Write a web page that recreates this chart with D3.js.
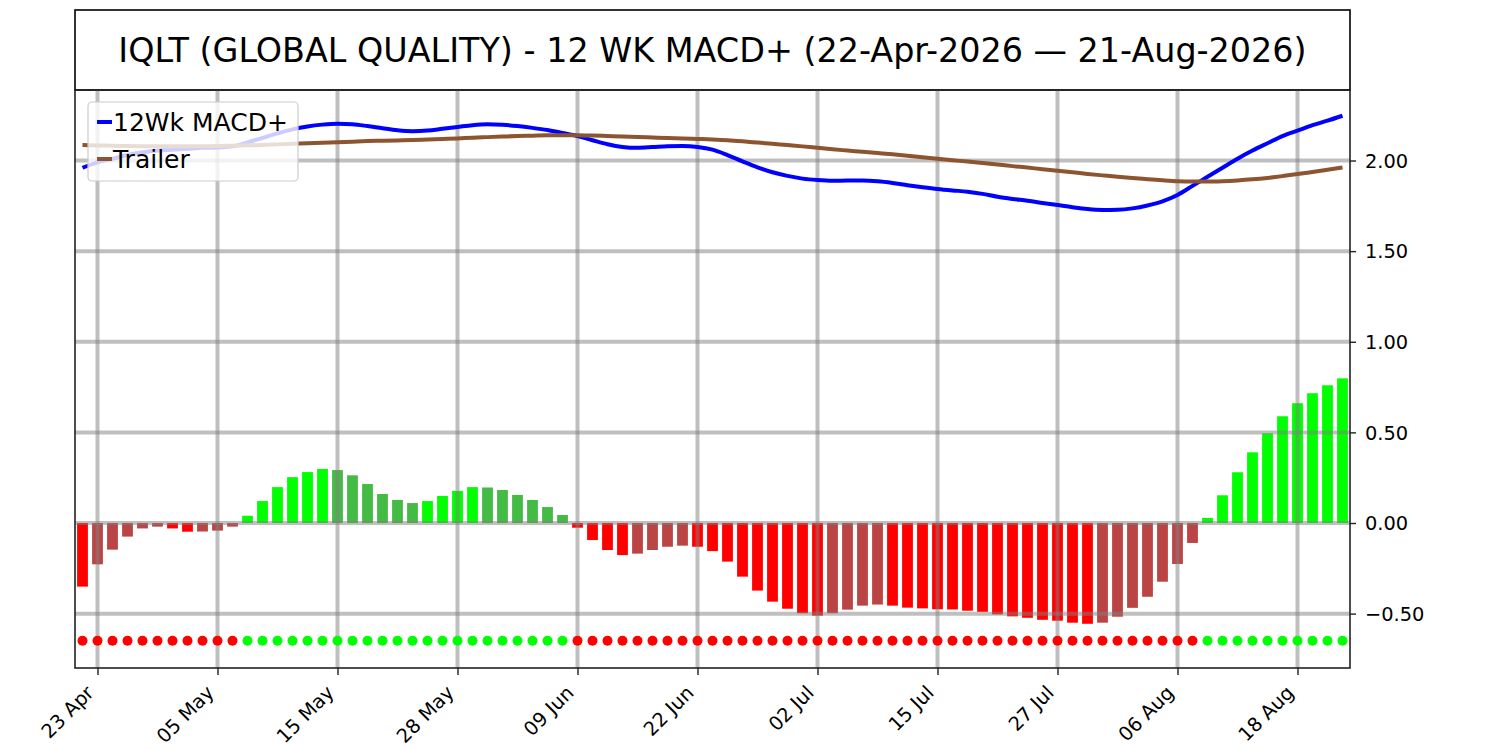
<!DOCTYPE html>
<html lang="en">
<head>
<meta charset="utf-8">
<title>IQLT 12 WK MACD+</title>
<script src="https://d3js.org/d3.v7.min.js"></script>
<style type="text/css">
  body { margin: 0; background: #fff; }
  text { font-family: "DejaVu Sans", sans-serif; fill: #000; }
  .axis path, .axis line { stroke: #222; }
</style>
</head>
<body>
<script type="text/javascript">

// chart title
var title = "IQLT (GLOBAL QUALITY) - 12 WK MACD+ (22-Apr-2026 \u2014 21-Aug-2026)";

// tick labels at trading-day index
var tickIndex  = [1, 9, 17, 25, 33, 41, 49, 57, 65, 73, 81];
var tickLabels = ["23 Apr", "05 May", "15 May", "28 May", "09 Jun", "22 Jun",
                  "02 Jul", "15 Jul", "27 Jul", "06 Aug", "18 Aug"];

// 12Wk MACD+ line, one value per trading day (22 Apr .. 21 Aug)
var macd = [1.96, 1.99, 2.01, 2.03, 2.045, 2.055, 2.06, 2.065, 2.07, 2.072,
            2.078, 2.10, 2.125, 2.15, 2.172, 2.188, 2.198, 2.203, 2.20, 2.19,
            2.178, 2.167, 2.162, 2.165, 2.175, 2.185, 2.195, 2.20, 2.197, 2.19,
            2.18, 2.168, 2.152, 2.135, 2.112, 2.09, 2.075, 2.07, 2.074, 2.079,
            2.08, 2.075, 2.06, 2.03, 1.995, 1.962, 1.935, 1.915, 1.90, 1.892,
            1.888, 1.889, 1.889, 1.885, 1.876, 1.864, 1.853, 1.843, 1.835, 1.828,
            1.816, 1.80, 1.788, 1.778, 1.766, 1.754, 1.742, 1.732, 1.727, 1.728,
            1.736, 1.752, 1.775, 1.81, 1.86, 1.91, 1.96, 2.01, 2.055, 2.095,
            2.135, 2.165, 2.195, 2.22, 2.247];

// Trailer line
var trailer = [2.085, 2.083, 2.081, 2.08, 2.079, 2.078, 2.078, 2.078, 2.079, 2.08,
               2.082, 2.084, 2.086, 2.089, 2.092, 2.095, 2.098, 2.101, 2.104, 2.107,
               2.109, 2.111, 2.113, 2.116, 2.119, 2.122, 2.126, 2.129, 2.132, 2.135,
               2.137, 2.139, 2.14, 2.14, 2.138, 2.135, 2.132, 2.13, 2.127, 2.124,
               2.122, 2.119, 2.116, 2.112, 2.106, 2.099, 2.092, 2.085, 2.078, 2.07,
               2.062, 2.055, 2.048, 2.041, 2.034, 2.026, 2.018, 2.01, 2.002, 1.994,
               1.986, 1.978, 1.969, 1.961, 1.952, 1.944, 1.935, 1.926, 1.918, 1.91,
               1.903, 1.897, 1.891, 1.886, 1.884, 1.884, 1.886, 1.89, 1.896, 1.904,
               1.914, 1.925, 1.937, 1.949, 1.962];

// histogram
var hist = [-0.351, -0.228, -0.147, -0.075, -0.03, -0.02, -0.03, -0.048, -0.047, -0.042,
            -0.02, 0.04, 0.121, 0.198, 0.253, 0.281, 0.298, 0.292, 0.263, 0.215,
            0.16, 0.127, 0.11, 0.121, 0.149, 0.177, 0.198, 0.196, 0.182, 0.155,
            0.127, 0.088, 0.044, -0.026, -0.094, -0.149, -0.177, -0.169, -0.149, -0.131,
            -0.125, -0.131, -0.155, -0.213, -0.296, -0.373, -0.434, -0.473, -0.498, -0.511,
            -0.498, -0.478, -0.456, -0.45, -0.456, -0.467, -0.471, -0.476, -0.477, -0.484,
            -0.49, -0.504, -0.515, -0.523, -0.534, -0.539, -0.55, -0.556, -0.55, -0.517,
            -0.468, -0.407, -0.324, -0.226, -0.11, 0.028, 0.153, 0.28, 0.39, 0.495,
            0.589, 0.661, 0.716, 0.76, 0.798];

var yTicks = [-0.5, 0, 0.5, 1, 1.5, 2];
var dotLevel = -0.65;

var width = 1500, height = 750;
var pLeft = 75, pRight = 1350, pTop = 90, pBottom = 668;

var svg = d3.select("body").append("svg")
  .attr("width", width)
  .attr("height", height);

var x = d3.scaleLinear().domain([-0.5, hist.length - 0.5]).range([pLeft, pRight]);
var y = d3.scaleLinear().domain([-0.8, 2.389]).range([pBottom, pTop]);
var bw = (x(1) - x(0)) * 0.72;

svg.append("defs").append("clipPath").attr("id", "plot")
  .append("rect").attr("x", pLeft).attr("y", pTop)
  .attr("width", pRight - pLeft).attr("height", pBottom - pTop);

// title box
svg.append("rect")
  .attr("x", pLeft).attr("y", 10)
  .attr("width", pRight - pLeft).attr("height", pTop - 10)
  .attr("fill", "none").attr("stroke", "#000").attr("stroke-width", 1.6);
svg.append("text")
  .attr("x", (pLeft + pRight) / 2).attr("y", 62)
  .attr("text-anchor", "middle")
  .style("font-size", "33.4px")
  .text(title);

var plot = svg.append("g").attr("clip-path", "url(#plot)");

// bars: bright when moving away from zero, dull when moving back
function barColor(d, i) {
  var prev = i > 0 ? hist[i - 1] : null;
  if (d >= 0) return (prev === null || d >= prev) ? "#00ff00" : "#44bb44";
  return (prev === null || d < prev) ? "#ff0000" : "#bb4444";
}

plot.selectAll("rect.bar")
  .data(hist)
  .enter()
  .append("rect")
  .attr("class", "bar")
  .attr("x", function(d, i) { return x(i) - bw / 2; })
  .attr("y", function(d) { return y(Math.max(0, d)); })
  .attr("width", bw)
  .attr("height", function(d) { return Math.abs(y(d) - y(0)); })
  .attr("fill", barColor);

// grid
plot.selectAll("line.hgrid")
  .data(yTicks)
  .enter()
  .append("line")
  .attr("x1", pLeft).attr("x2", pRight)
  .attr("y1", function(d) { return y(d); })
  .attr("y2", function(d) { return y(d); })
  .attr("stroke", "#808080").attr("stroke-opacity", 0.5).attr("stroke-width", 4);

plot.selectAll("line.vgrid")
  .data(tickIndex)
  .enter()
  .append("line")
  .attr("x1", function(d) { return x(d); })
  .attr("x2", function(d) { return x(d); })
  .attr("y1", pTop).attr("y2", pBottom)
  .attr("stroke", "#808080").attr("stroke-opacity", 0.5).attr("stroke-width", 4);

// lines
var line = d3.line()
  .x(function(d, i) { return x(i); })
  .y(function(d) { return y(d); })
  .curve(d3.curveMonotoneX);

plot.append("path").datum(macd)
  .attr("d", line)
  .attr("fill", "none").attr("stroke", "#0000ff").attr("stroke-width", 4);

plot.append("path").datum(trailer)
  .attr("d", line)
  .attr("fill", "none").attr("stroke", "#8c5530").attr("stroke-width", 4);

// signal dots
plot.selectAll("circle.dot")
  .data(macd)
  .enter()
  .append("circle")
  .attr("cx", function(d, i) { return x(i); })
  .attr("cy", y(dotLevel))
  .attr("r", 5)
  .attr("fill", function(d, i) { return d > trailer[i] ? "#00ff00" : "#ff0000"; });

// frame
svg.append("rect")
  .attr("x", pLeft).attr("y", pTop)
  .attr("width", pRight - pLeft).attr("height", pBottom - pTop)
  .attr("fill", "none").attr("stroke", "#222").attr("stroke-width", 1.6);

// right axis
var yAxis = svg.append("g")
  .attr("class", "axis")
  .attr("transform", "translate(" + pRight + ",0)")
  .call(d3.axisRight(y).tickValues(yTicks).tickFormat(d3.format(".2f"))
        .tickSize(6).tickPadding(9));
yAxis.select(".domain").remove();
yAxis.selectAll("line").attr("stroke-width", 1.4);
yAxis.selectAll("text").style("font-size", "19.4px").attr("dy", "0.35em");

// bottom axis
var xAxis = svg.append("g")
  .attr("class", "axis")
  .attr("transform", "translate(0," + pBottom + ")")
  .call(d3.axisBottom(x).tickValues(tickIndex)
        .tickFormat(function(d, i) { return tickLabels[i]; })
        .tickSize(7));
xAxis.select(".domain").remove();
xAxis.selectAll("line").attr("stroke-width", 1.4);
xAxis.selectAll("text")
  .style("font-size", "19.4px")
  .attr("text-anchor", "end")
  .attr("dy", null)
  .attr("y", null)
  .attr("transform", "translate(-3,26) rotate(-45)");

// legend
var legend = svg.append("g");
legend.append("rect")
  .attr("x", 88).attr("y", 102).attr("width", 210).attr("height", 79)
  .attr("rx", 4)
  .attr("fill", "#fff").attr("fill-opacity", 0.8)
  .attr("stroke", "#cccccc").attr("stroke-width", 1.2);

var legendItems = [
  { name: "12Wk MACD+", color: "#0000ff" },
  { name: "Trailer", color: "#8c5530" }
];
legendItems.forEach(function(d, i) {
  var ly = 122 + i * 37;
  legend.append("line")
    .attr("x1", 97).attr("x2", 112).attr("y1", ly).attr("y2", ly)
    .attr("stroke", d.color).attr("stroke-width", 4);
  legend.append("text")
    .attr("x", 113).attr("y", ly + 9)
    .style("font-size", "25px")
    .text(d.name);
});

</script>
</body>
</html>
